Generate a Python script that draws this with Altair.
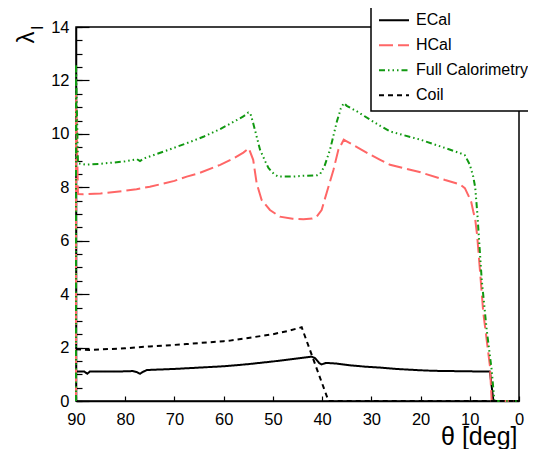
import altair as alt
import pandas as pd

series_names = ["ECal", "HCal", "Full Calorimetry", "Coil"]
series_colors = ["#000000", "#ff6666", "#119911", "#000000"]
series_dashes = [[1, 0], [14, 5], [6, 3, 1.5, 3, 1.5, 3, 1.5, 3], [5, 4]]

ecal_theta = [90, 88.3, 87.7, 87.2, 85, 82, 78.5, 77.6, 77.0, 76.3, 75.6, 70, 65, 60, 57.4, 55, 50, 46,
              42.1, 41.4, 40.6, 40.1, 39.3, 38.6, 37, 34, 30.9, 28.2, 25, 20, 17.4, 10, 5.9, 5.2, 0]
ecal_lam = [1.1, 1.1, 1.02, 1.1, 1.1, 1.1, 1.12, 1.08, 1.02, 1.1, 1.16, 1.2, 1.25, 1.3, 1.34, 1.38, 1.48, 1.57,
            1.66, 1.6, 1.42, 1.37, 1.42, 1.42, 1.4, 1.33, 1.28, 1.25, 1.2, 1.15, 1.13, 1.11, 1.1, 0, 0]

hcal_theta = [90, 90, 89.6, 88.5, 85, 80, 77.7, 75, 70, 67.5, 65, 60.7, 58, 56, 54.9, 54.0, 53.3, 52.3,
              50.6, 48.6, 46, 43.8, 42, 41.1, 40.1, 39.1, 37.7, 36.7, 35.6, 35, 30, 28.2, 26.2, 20, 15,
              12, 11, 10.3, 9.7, 9.3, 8.9, 8.5, 7.25, 5.9, 5.55, 0]
hcal_lam = [0, 11.5, 7.75, 7.74, 7.77, 7.87, 7.93, 8.02, 8.24, 8.4, 8.53, 8.84, 9.08, 9.3, 9.46, 9.03, 8.15, 7.53,
            7.15, 6.9, 6.82, 6.8, 6.83, 6.9, 7.15, 7.78, 8.65, 9.4, 9.78, 9.72, 9.2, 9.03, 8.84, 8.56, 8.27,
            8.11, 7.97, 7.7, 7.45, 7.1, 6.8, 6.2, 3.3, 1.3, 0, 0]

full_theta = [90, 90, 89.6, 88, 85, 80, 77.6, 77.0, 76.2, 72, 67.5, 64, 60.7, 58, 56, 55, 54.6, 54, 52.6,
              51.5, 50.9, 49.8, 48.9, 46, 43.8, 41, 40.4, 39.5, 38.4, 37, 36.2, 35.6, 35, 33, 30, 28.2,
              26.2, 20, 15, 12, 11, 10, 9.3, 8.9, 8.47, 7.57, 6.56, 5.55, 5.0, 0]
full_lam = [0, 12.6, 8.9, 8.85, 8.88, 8.97, 9.05, 8.98, 9.08, 9.35, 9.65, 9.9, 10.18, 10.45, 10.65, 10.8, 10.78,
            10.4, 9.4, 8.95, 8.72, 8.5, 8.4, 8.4, 8.43, 8.45, 8.5, 8.8, 9.4, 10.46, 10.95, 11.15, 11.05, 10.85,
            10.5, 10.3, 10.09, 9.78, 9.47, 9.28, 9.2, 8.85, 8.4, 8.0, 7.03, 4.53, 2.66, 1.16, 0, 0]

coil_theta = [90, 87.2, 85, 80, 77.7, 75, 70, 67.5, 65, 60, 58.7, 55, 50, 47, 44.15, 38.7, 0]
coil_lam = [1.94, 1.91, 1.93, 1.97, 2.01, 2.04, 2.1, 2.13, 2.17, 2.24, 2.26, 2.36, 2.5, 2.62, 2.76, 0, 0]

x_ticks = [90, 80, 70, 60, 50, 40, 30, 20, 10, 0]
y_ticks = [0, 2, 4, 6, 8, 10, 12, 14]
y_minor = [0.5 * i for i in range(29)]

rows = []
idx = 0
for name, th, la in [("ECal", ecal_theta, ecal_lam), ("HCal", hcal_theta, hcal_lam),
                     ("Full Calorimetry", full_theta, full_lam), ("Coil", coil_theta, coil_lam)]:
    for t, l in zip(th, la):
        rows.append({"series": name, "theta": t, "lam": l, "idx": idx})
        idx += 1
df = pd.DataFrame(rows)

FONT = "Liberation Sans"
W, H = 443, 374

x_scale = alt.Scale(domain=[0, 90], reverse=True, nice=False, zero=False)
y_scale = alt.Scale(domain=[0, 14], nice=False)

lines = alt.Chart(df).mark_line(strokeWidth=2).encode(
    x=alt.X("theta:Q", scale=x_scale, axis=alt.Axis(
        orient="bottom", values=x_ticks, format="d", ticks=False, tickSize=0, labelPadding=10,
        labelFontSize=16.5, labelFont=FONT, labelColor="black", labelFlush=False,
        domainColor="black", domainWidth=1.5, grid=False,
        title="θ [deg]", titleX=441, titleY=43, titleAlign="right", titleBaseline="alphabetic",
        titleFontSize=25, titleFontWeight="normal", titleFont=FONT, titleColor="black", titleAngle=0)),
    y=alt.Y("lam:Q", scale=y_scale, axis=alt.Axis(
        orient="left", values=y_ticks, format="d", ticks=False, tickSize=0, labelPadding=7,
        labelFontSize=16.5, labelFont=FONT, labelColor="black", labelFlush=False, labelBaseline="middle",
        domainColor="black", domainWidth=1.5, grid=False,
        title="λ", titleX=-43, titleY=16, titleAngle=270, titleAlign="left", titleBaseline="alphabetic",
        titleFontSize=24, titleFontWeight="normal", titleFont=FONT, titleColor="black")),
    color=alt.Color("series:N", scale=alt.Scale(domain=series_names, range=series_colors),
                    sort=series_names, title=None),
    strokeDash=alt.StrokeDash("series:N", scale=alt.Scale(domain=series_names, range=series_dashes),
                              sort=series_names, title=None),
    order=alt.Order("idx:Q"),
)

ticks_major = alt.Chart(df).mark_line(strokeOpacity=0).encode(
    x=alt.X("theta:Q", scale=x_scale, axis=alt.Axis(
        orient="top", offset=-H, values=x_ticks, labels=False, domain=False, ticks=True,
        tickSize=5, tickColor="black", tickWidth=1.2, grid=False, title=None)),
    y=alt.Y("lam:Q", scale=y_scale, axis=alt.Axis(
        orient="right", offset=-W, values=y_ticks, labels=False, domain=False, ticks=True,
        tickSize=13, tickColor="black", tickWidth=1.2, grid=False,
        title="I", titleX=-34, titleY=2.5, titleAngle=270, titleAlign="left", titleBaseline="alphabetic",
        titleFontSize=16, titleFontWeight="normal", titleFont=FONT, titleColor="black")),
    detail="series:N",
    order=alt.Order("idx:Q"),
)

ticks_minor = alt.Chart(df).mark_line(strokeOpacity=0).encode(
    x=alt.X("theta:Q", scale=x_scale, axis=None),
    y=alt.Y("lam:Q", scale=y_scale, axis=alt.Axis(
        orient="right", offset=-W, values=y_minor, labels=False, domain=False, ticks=True,
        tickSize=6, tickColor="black", tickWidth=1.2, grid=False, title=None)),
    detail="series:N",
    order=alt.Order("idx:Q"),
)

chart = alt.layer(lines, ticks_major, ticks_minor).resolve_axis(
    x="independent", y="independent"
).properties(
    width=W, height=H,
    autosize=alt.AutoSizeParams(type="none"),
    padding={"left": 68, "top": 19, "right": 9, "bottom": 48},
    background="white",
).configure_view(
    stroke="black", strokeWidth=1.5
).configure_legend(
    orient="none", legendX=295, legendY=-22,
    fillColor="white", strokeColor="black", strokeWidth=1.5,
    padding=3, symbolOffset=4, labelOffset=6, clipHeight=24.25, rowPadding=0,
    symbolSize=900, symbolStrokeWidth=2, symbolType="stroke",
    labelFontSize=16, labelFont=FONT, labelColor="black", labelLimit=300,
)

chart.save("out.html", embed_options={"renderer": "svg", "actions": False})
